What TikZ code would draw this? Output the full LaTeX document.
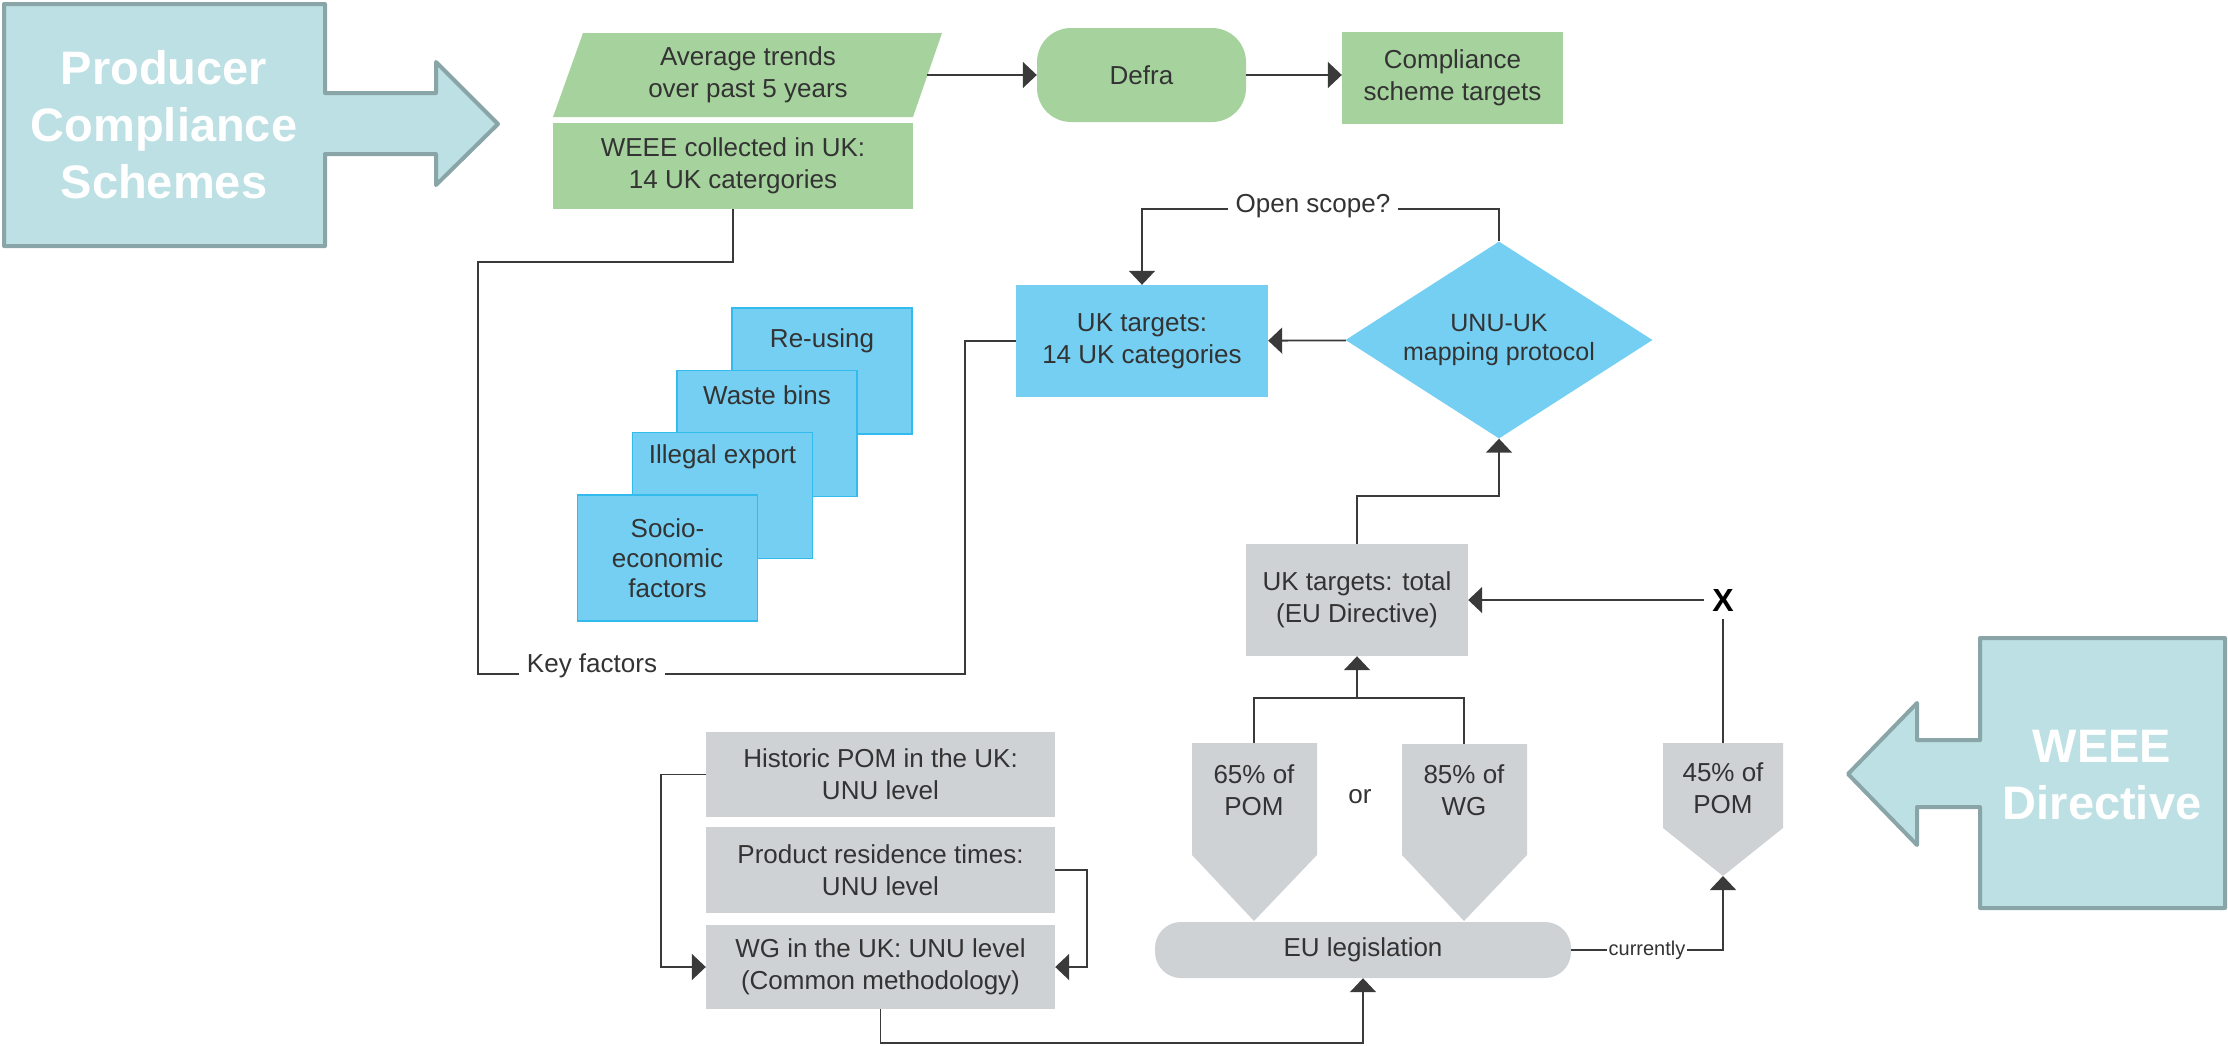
\documentclass[tikz,border=0pt]{standalone}
\usepackage{fontspec}
\setmainfont{Liberation Sans}
\usetikzlibrary{arrows.meta,shapes.geometric}

\definecolor{boxgreen}{HTML}{A6D39D}
\definecolor{boxblue}{HTML}{74CFF2}
\definecolor{cardedge}{HTML}{33BBEE}
\definecolor{boxgrey}{HTML}{CFD2D5}
\definecolor{tealfill}{HTML}{BCE0E3}
\definecolor{tealedge}{HTML}{8AA5A7}
\definecolor{inktext}{HTML}{333333}
\definecolor{linegrey}{HTML}{3A3A3A}

\tikzset{
  txt/.style={text=inktext, font=\fontsize{26}{32}\selectfont, align=center, inner sep=4pt},
  greenbox/.style={txt, fill=boxgreen},
  bluebox/.style={txt, fill=boxblue},
  greybox/.style={txt, fill=boxgrey},
  card/.style={fill=boxblue, draw=cardedge, line width=1.5pt, minimum width=180pt, minimum height=126pt},
  conn/.style={draw=linegrey, line width=1.8pt},
  arr/.style={conn, -{Triangle[length=14pt,width=26pt]}},
  onlinetxt/.style={txt, fill=white, inner xsep=8pt, inner ysep=1pt},
  bigtxt/.style={text=white, font=\fontsize{47}{57}\selectfont\bfseries, align=center},
  bigarrow/.style={fill=tealfill, draw=tealedge, line width=4pt, line join=round},
}

\begin{document}
\begin{tikzpicture}[x=1pt, y=-1pt]
    \useasboundingbox (0,0) rectangle (2228,1045);

    % the two big arrows
    \draw[bigarrow] (4,4) -- (325,4) -- (325,93) -- (436,93) -- (436,62) -- (498,124) -- (436,185) -- (436,154) -- (325,154) -- (325,246) -- (4,246) -- cycle;
    \node[bigtxt] (pcs) at (164,125) {Producer\\Compliance\\Schemes};
    \draw[bigarrow] (2225,638) -- (1980,638) -- (1980,740) -- (1917,740) -- (1917,703) -- (1848,774) -- (1917,845) -- (1917,807) -- (1980,807) -- (1980,908) -- (2225,908) -- cycle;
    \node[bigtxt] (weeedir) at (2102,775) {WEEE\\Directive};

    % top row
    \fill[boxgreen] (583,33) -- (942,33) -- (913,117) -- (553,117) -- cycle;
    \node[txt, minimum width=358pt, minimum height=84pt] (avg) at (748,75) {Average trends\\over past 5 years};
    \node[greenbox, minimum width=360pt, minimum height=86pt] (weee) at (733,166) {WEEE collected in UK:\\14 UK catergories};
    \node[greenbox, rounded corners=34pt, minimum width=209pt, minimum height=94pt] (defra) at (1141.5,75) {Defra};
    \node[greenbox, minimum width=221pt, minimum height=92pt] (comp) at (1452.5,78) {Compliance\\scheme targets};
    \draw[arr] (avg) -- (defra);
    \draw[arr] (defra) -- (defra -| comp.west);

    % UK targets and mapping
    \node[bluebox, minimum width=252pt, minimum height=112pt] (uktgt) at (1142,341) {UK targets:\\14 UK categories};
    \node[diamond, fill=boxblue, txt, font=\fontsize{25}{29}\selectfont, inner sep=0pt, aspect=1.56, minimum width=307pt, minimum height=197pt] (unu) at (1499,340) {UNU-UK\\mapping protocol};
    \draw[arr] (unu) -- (uktgt);
    \coordinate (os) at (1320,209);
    \draw[arr] (unu.north) |- (os) -| (uktgt.north);
    \node[onlinetxt] (oslbl) at (1313,206) {Open scope?};

    % key factors
    \node[card] (reuse) at (822,371) {};
    \node[txt, anchor=base] (reuselbl) at (822,347) {Re-using};
    \node[card] (waste) at (767,433.5) {};
    \node[txt, anchor=base] (wastelbl) at (767,404) {Waste bins};
    \node[card] (illegal) at (722.5,495.5) {};
    \node[txt, anchor=base] (illegallbl) at (722.5,463) {Illegal export};
    \node[card, txt, font=\fontsize{26}{30}\selectfont] (socio) at (667.5,558) {Socio-\\economic\\factors};

    \draw[conn] (weee.south) |- (478,262) |- (965,674) |- (uktgt.west);
    \node[onlinetxt] (kf) at (592,666) {Key factors};

    % EU targets
    \node[greybox, minimum width=222pt, minimum height=112pt] (uktot) at (1357,600) {UK targets: total\\(EU Directive)};
    \coordinate (j1) at (1499,496);
    \draw[arr] (uktot.north) |- (j1) -- (unu.south);
    \node[text=black, font=\fontsize{32}{32}\selectfont\bfseries, inner sep=8pt] (xmark) at (1723,600) {X};
    \draw[arr] (xmark) -- (uktot);

    \fill[boxgrey] (1192,743) -- (1317,743) -- (1317,855) -- (1254,921) -- (1192,855) -- cycle;
    \coordinate (p65n) at (1254,743);
    \node[txt] (p65) at (1254,790) {65\% of\\POM};
    \fill[boxgrey] (1402,744) -- (1527,744) -- (1527,855) -- (1464,921) -- (1402,855) -- cycle;
    \coordinate (p85n) at (1464,744);
    \node[txt] (p85) at (1464,790) {85\% of\\WG};
    \node[txt] (orlbl) at (1360,797) {or};
    \fill[boxgrey] (1663,743) -- (1783,743) -- (1783,828) -- (1723,876) -- (1663,828) -- cycle;
    \coordinate (p45n) at (1723,743);
    \coordinate (p45s) at (1723,876);
    \node[txt] (p45) at (1723,788) {45\% of\\POM};

    \coordinate (j2) at (1357,698);
    \draw[conn] (p65n) |- (j2) -| (p85n);
    \draw[arr] (j2) -- (uktot);
    \draw[conn] (p45n) -- (xmark);

    \node[greybox, rounded corners=26pt, minimum width=416pt, minimum height=56pt] (eu) at (1363,950) {EU legislation};
    \draw[arr] (eu) -| (p45s);
    \node[onlinetxt, font=\fontsize{20}{24}\selectfont, inner xsep=2pt] (cur) at (1647,950) {currently};

    % UNU level data
    \node[greybox, minimum width=349pt, minimum height=85pt] (hist) at (880.5,774.5) {Historic POM in the UK:\\UNU level};
    \node[greybox, minimum width=349pt, minimum height=86pt] (prod) at (880.5,870) {Product residence times:\\UNU level};
    \node[greybox, minimum width=349pt, minimum height=84pt] (wg) at (880.5,967) {WG in the UK: UNU level\\(Common methodology)};
    \draw[arr] (hist.west) -- ++(-45,0) |- (wg);
    \draw[arr] (prod.east) -- ++(32,0) |- (wg);
    \draw[arr] (wg.south) |- ([yshift=-65pt]eu.south) -- (eu.south);

\end{tikzpicture}
\end{document}
